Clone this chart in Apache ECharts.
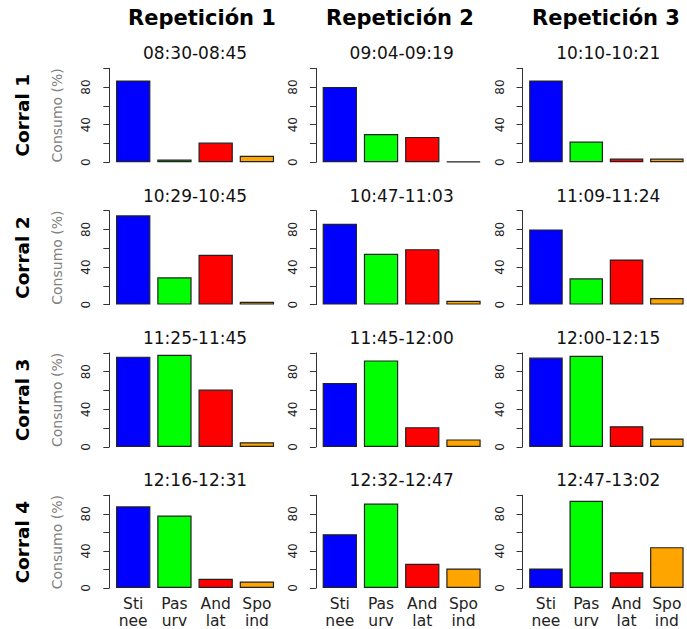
<!DOCTYPE html>
<html>
<head>
<meta charset="utf-8">
<script src="https://cdn.jsdelivr.net/npm/echarts@6/dist/echarts.min.js"></script>
<style>
html,body{margin:0;padding:0;background:#fff;}
#chart{width:687px;height:629px;}
</style>
</head>
<body>
<div id="chart"></div>
<script>
// ---- data ----
const categories = ['Sti\nnee', 'Pas\nurv', 'And\nlat', 'Spo\nind'];
const repeticiones = ['Repetición 1', 'Repetición 2', 'Repetición 3'];
const corrales = ['Corral 1', 'Corral 2', 'Corral 3', 'Corral 4'];
const horariosCorral1 = ['08:30-08:45', '09:04-09:19', '10:10-10:21'];
const horariosCorral2 = ['10:29-10:45', '10:47-11:03', '11:09-11:24'];
const horariosCorral3 = ['11:25-11:45', '11:45-12:00', '12:00-12:15'];
const horariosCorral4 = ['12:16-12:31', '12:32-12:47', '12:47-13:02'];
// consumo (%) per repetición: [Sti nee, Pas urv, And lat, Spo ind]
const consumoCorral1 = [[87, 3, 21, 7], [80, 30, 27, 1], [87, 22, 4, 4]];
const consumoCorral2 = [[95, 29, 53, 3], [86, 54, 59, 4], [80, 28, 48, 7]];
const consumoCorral3 = [[96, 98, 61, 5], [68, 92, 21, 8], [95, 97, 22, 9]];
const consumoCorral4 = [[88, 78, 10, 7], [58, 91, 26, 21], [21, 94, 17, 44]];
const yTicks = [0, 40, 80];
const yLabel = 'Consumo (%)';

// ---- layout / style ----
const barColors = ['#0000FF', '#00FF00', '#FF0000', '#FFA500'];
const horarios = [horariosCorral1, horariosCorral2, horariosCorral3, horariosCorral4];
const consumo = [consumoCorral1, consumoCorral2, consumoCorral3, consumoCorral4];
const colLeft = [112.6, 319.2, 525.8];
const rowTop = [68.3, 210.6, 352.9, 495.2];
const gridW = 164.9, gridH = 94;
const headerX = [202, 400, 606];
const FONT = 'DejaVu Sans';

const grids = [], xAxes = [], yAxes = [], series = [], graphics = [];
let idx = 0;
for (let r = 0; r < 4; r++) {
  for (let c = 0; c < 3; c++) {
    grids.push({left: colLeft[c], top: rowTop[r], width: gridW, height: gridH, containLabel: false});
    xAxes.push({
      type: 'category', gridIndex: idx, data: categories,
      axisLine: {show: false}, axisTick: {show: false}, splitLine: {show: false},
      axisLabel: {show: r === 3, interval: 0, color: '#222', fontFamily: FONT, fontSize: 15.5, lineHeight: 17, margin: 7}
    });
    yAxes.push({
      type: 'value', gridIndex: idx, min: 0, max: 100, interval: 20, offset: 3.3,
      axisLine: {show: true, lineStyle: {color: '#333', width: 1}},
      axisTick: {show: true, length: 6, lineStyle: {color: '#333', width: 1}},
      splitLine: {show: false},
      axisLabel: {
        show: true, rotate: 90, margin: 17, color: '#222', fontFamily: FONT, fontSize: 12,
        formatter: v => (yTicks.indexOf(v) >= 0 ? String(v) : '')
      }
    });
    series.push({
      type: 'bar', xAxisIndex: idx, yAxisIndex: idx, barCategoryGap: '16.7%',
      animation: false,
      data: consumo[r][c].map((v, i) => ({value: v, itemStyle: {color: barColors[i]}})),
      itemStyle: {borderColor: '#222', borderWidth: 1.2}
    });
    graphics.push({
      type: 'text', x: colLeft[c] + gridW / 2, y: rowTop[r] - 15,
      style: {text: horarios[r][c], fill: '#111', font: '17px "DejaVu Sans"', align: 'center', verticalAlign: 'middle'}
    });
    idx++;
  }
  const cy = rowTop[r] + gridH / 2;
  graphics.push({
    type: 'text', x: 57, y: cy, rotation: Math.PI / 2,
    style: {text: yLabel, fill: '#808080', font: '14px "DejaVu Sans"', align: 'center', verticalAlign: 'middle'}
  });
  graphics.push({
    type: 'text', x: 22, y: cy, rotation: Math.PI / 2,
    style: {text: corrales[r], fill: '#000', font: 'bold 18.5px "DejaVu Sans"', align: 'center', verticalAlign: 'middle'}
  });
}
for (let c = 0; c < 3; c++) {
  graphics.push({
    type: 'text', x: headerX[c], y: 18,
    style: {text: repeticiones[c], fill: '#000', font: 'bold 21px "DejaVu Sans"', align: 'center', verticalAlign: 'middle'}
  });
}

const chart = echarts.init(document.getElementById('chart'), null, {renderer: 'svg'});
chart.setOption({
  animation: false,
  backgroundColor: '#fff',
  grid: grids, xAxis: xAxes, yAxis: yAxes, series: series,
  graphic: graphics
});
</script>
</body>
</html>
